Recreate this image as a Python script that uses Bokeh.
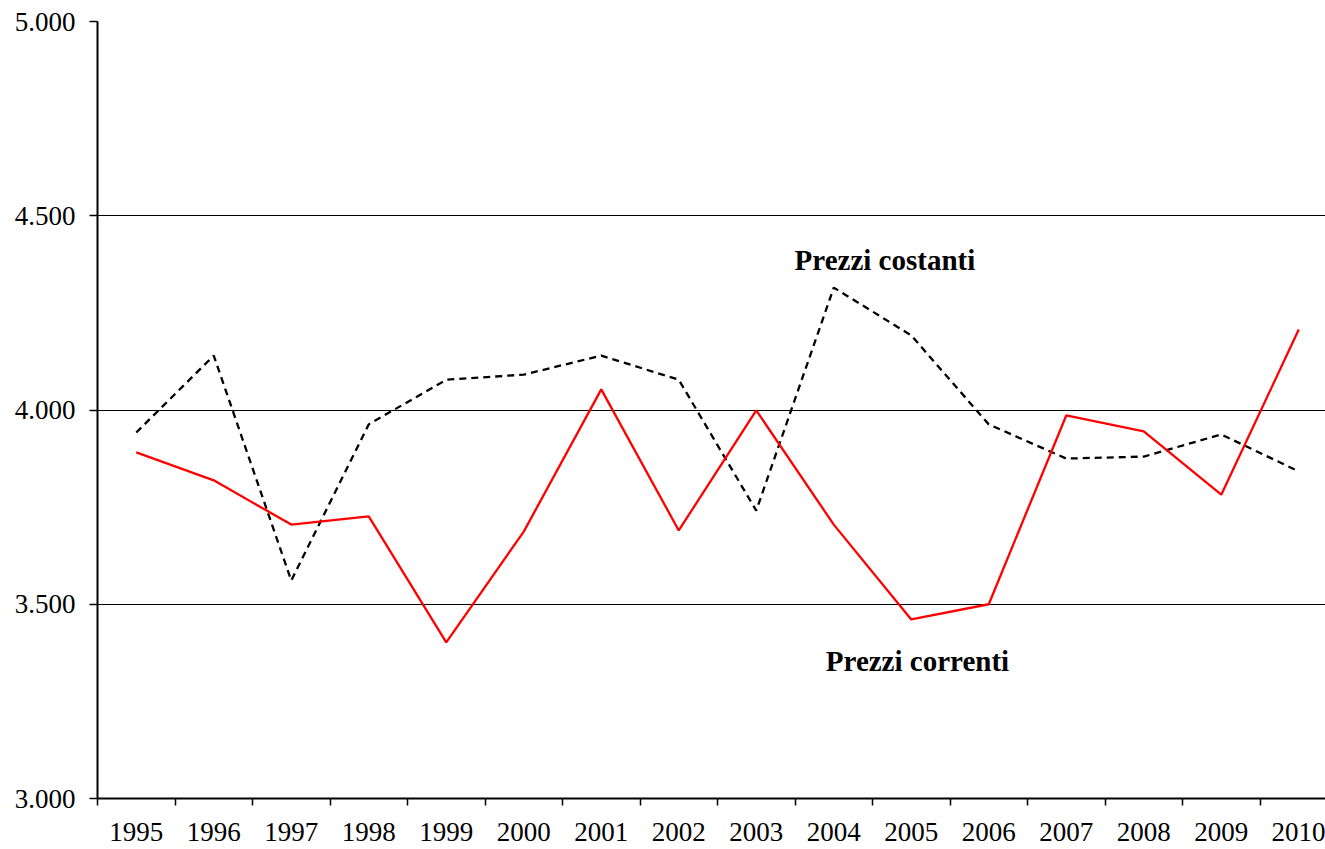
from bokeh.plotting import figure
from bokeh.models import Range1d, FixedTicker, Label
from bokeh.embed import file_html
from bokeh.resources import INLINE

years = list(range(1995, 2011))
prezzi_costanti = [3942, 4140, 3561, 3963, 4078, 4091, 4140, 4078, 3741, 4315, 4192, 3963, 3875, 3880, 3937, 3842]
prezzi_correnti = [3891, 3819, 3705, 3726, 3402, 3687, 4053, 3690, 3999, 3705, 3461, 3500, 3986, 3945, 3782, 4207]
y_ticks = [3000, 3500, 4000, 4500, 5000]
y_labels = ["3.000", "3.500", "4.000", "4.500", "5.000"]

FONT = "Liberation Serif"

p = figure(width=1325, height=845, output_backend="svg", toolbar_location=None,
           x_range=Range1d(1994.5, 2010.345), y_range=Range1d(3000, 5000),
           min_border_left=97, min_border_top=21, min_border_right=0, min_border_bottom=47)
p.outline_line_color = None
p.background_fill_color = "white"
p.border_fill_color = "white"

p.line(years, prezzi_costanti, line_color="black", line_width=2.3, line_dash="7 5")
p.line(years, prezzi_correnti, line_color="#ff0000", line_width=2.3)

# axes
p.xaxis.ticker = FixedTicker(ticks=years, minor_ticks=[y - 0.5 for y in years] + [2010.5])
p.xaxis.major_label_overrides = {y: str(y) for y in years}
p.xaxis.major_tick_out = 0
p.xaxis.major_tick_in = 0
p.xaxis.minor_tick_out = 7
p.xaxis.minor_tick_in = 0
p.xaxis.minor_tick_line_color = "black"
p.xaxis.minor_tick_line_width = 1.5
p.xaxis.axis_line_color = "black"
p.xaxis.axis_line_width = 2
p.xaxis.major_label_standoff = 17
p.xaxis.major_label_text_font = FONT
p.xaxis.major_label_text_font_size = "27px"
p.xaxis.major_label_text_color = "black"

p.yaxis.ticker = FixedTicker(ticks=y_ticks)
p.yaxis.major_label_overrides = {t: l for t, l in zip(y_ticks, y_labels)}
p.yaxis.major_tick_out = 8
p.yaxis.major_tick_in = 0
p.yaxis.minor_tick_out = 0
p.yaxis.minor_tick_in = 0
p.yaxis.major_tick_line_color = "black"
p.yaxis.major_tick_line_width = 1.5
p.yaxis.axis_line_color = "black"
p.yaxis.axis_line_width = 2
p.yaxis.major_label_standoff = 14
p.yaxis.major_label_text_font = FONT
p.yaxis.major_label_text_font_size = "27px"
p.yaxis.major_label_text_color = "black"

p.xgrid.grid_line_color = None
p.ygrid.grid_line_color = "black"
p.ygrid.grid_line_width = 1.2

p.add_layout(Label(x=2004.66, y=4385, text="Prezzi costanti", text_font=FONT,
                   text_font_size="29px", text_font_style="bold", text_align="center",
                   text_baseline="middle", text_color="black"))
p.add_layout(Label(x=2005.08, y=3353, text="Prezzi correnti", text_font=FONT,
                   text_font_size="29px", text_font_style="bold", text_align="center",
                   text_baseline="middle", text_color="black"))

open("out.html", "w").write(file_html(p, INLINE))
